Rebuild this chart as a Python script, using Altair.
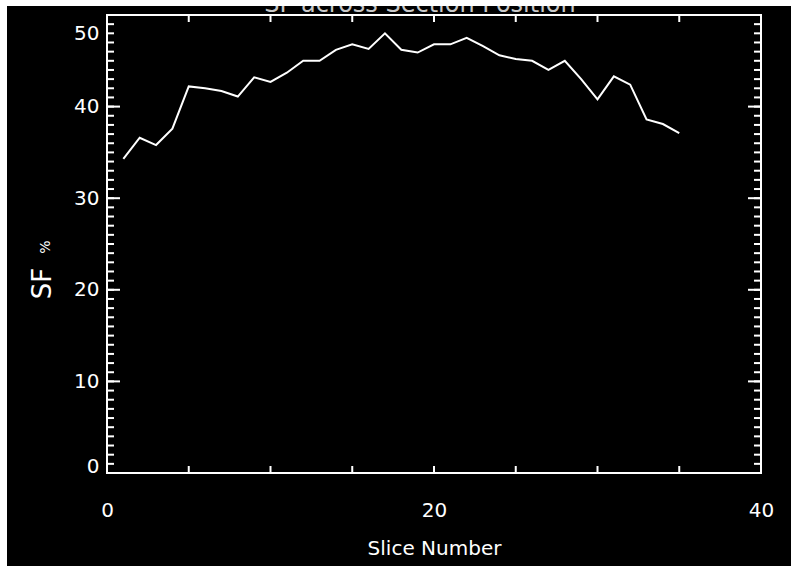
import altair as alt
import pandas as pd

# ---- data ----
slices = list(range(1, 36))
sf_values = [34.3, 36.6, 35.8, 37.6, 42.2, 42.0, 41.7, 41.1, 43.2, 42.7,
             43.7, 45.0, 45.0, 46.2, 46.8, 46.3, 48.0, 46.2, 45.9, 46.8,
             46.8, 47.5, 46.6, 45.6, 45.2, 45.0, 44.0, 45.0, 43.0, 40.8,
             43.3, 42.4, 38.6, 38.1, 37.1]
x_label_values = [0, 20, 40]
y_label_values = [0, 10, 20, 30, 40, 50]
x_tick_values = [5, 10, 15, 20, 25, 30, 35]
y_minor_values = list(range(1, 50))
y_major_values = [10, 20, 30, 40]
top_title = "SF across Section Position"

FONT = "DejaVu Sans"
W, H = 654, 458

df = pd.DataFrame({"slice": slices, "sf": sf_values})
xs = alt.Scale(domain=[0, 40], nice=False, zero=False)
ys = alt.Scale(domain=[0, 50], nice=False, zero=False)

x_axis = alt.Axis(
    values=x_label_values, ticks=False, domain=False, grid=False,
    labelColor="white", labelFontSize=20, labelFont=FONT, labelPadding=27,
    labelFlush=False,
    title="Slice Number", titleColor="white", titleFontSize=20, titleFont=FONT,
    titleFontWeight="normal", titleY=75, titleBaseline="middle")
y_axis = alt.Axis(
    values=y_label_values, ticks=False, domain=False, grid=False,
    labelColor="white", labelFontSize=20, labelFont=FONT, labelPadding=8,
    labelFlush=False,
    labelOffset={"condition": [{"test": "datum.value === 50", "value": 18},
                               {"test": "datum.value === 0", "value": -7}],
                 "value": 0},
    title="SF", titleColor="white", titleFontSize=26, titleFont=FONT,
    titleFontWeight="normal", titleX=-65, titleY=268, titleAngle=270,
    titleAlign="center", titleBaseline="middle")

line = alt.Chart(df).mark_line(color="white", strokeWidth=2).encode(
    x=alt.X("slice:Q", scale=xs, axis=x_axis),
    y=alt.Y("sf:Q", scale=ys, axis=y_axis),
)

ym = pd.DataFrame({"v": y_minor_values})
yM = pd.DataFrame({"v": y_major_values})
xt = pd.DataFrame({"v": x_tick_values})

def yticks(data, x0, x1):
    return alt.Chart(data).mark_rule(color="white", strokeWidth=2).encode(
        y=alt.Y("v:Q", scale=ys, axis=y_axis), x=alt.value(x0), x2=alt.value(x1))

def xticks(data, y0, y1):
    return alt.Chart(data).mark_rule(color="white", strokeWidth=2).encode(
        x=alt.X("v:Q", scale=xs, axis=x_axis), y=alt.value(y0), y2=alt.value(y1))

one = pd.DataFrame({"t": [top_title]})
title_txt = alt.Chart(one).mark_text(
    color="#c8c8c8", fontSize=24, font=FONT, align="center", baseline="alphabetic"
).encode(x=alt.value(313), y=alt.value(-3), text="t:N")

top_strip = alt.Chart(one).mark_rect(color="white").encode(
    x=alt.value(-107), x2=alt.value(W + 30), y=alt.value(-15), y2=alt.value(-9))
left_strip = alt.Chart(one).mark_rect(color="white").encode(
    x=alt.value(-107), x2=alt.value(-100), y=alt.value(-15), y2=alt.value(H + 93))

pct = alt.Chart(pd.DataFrame({"t": ["%"]})).mark_text(
    color="white", fontSize=14, font=FONT, angle=270, align="center", baseline="middle"
).encode(x=alt.value(-61), y=alt.value(232), text="t:N")

chart = alt.layer(
    line,
    yticks(ym, 0, 7), yticks(yM, 0, 13),
    yticks(ym, W, W - 7), yticks(yM, W, W - 13),
    xticks(xt, H, H - 7), xticks(xt, 0, 7),
    pct, title_txt, top_strip, left_strip,
).properties(
    width=W, height=H,
    autosize=alt.AutoSizeParams(type="none"),
    padding={"left": 107, "top": 15, "right": 30, "bottom": 93},
    background="black",
).configure_view(stroke="white", strokeWidth=2)

chart.save("out.html", embed_options={"renderer": "svg", "actions": False})
